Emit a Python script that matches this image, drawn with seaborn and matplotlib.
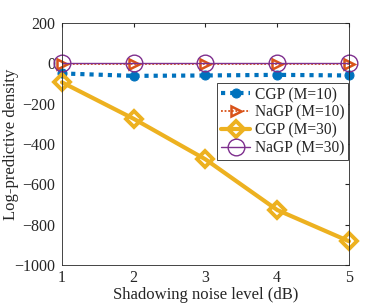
import matplotlib
matplotlib.use("Agg")
import matplotlib.pyplot as plt
import seaborn as sns
import pandas as pd

noise_db = [1, 2, 3, 4, 5]
cgp_m10 = [-50, -62, -60, -57, -60]
nagp_m10 = [-1, -1, -1, -1, -1]
cgp_m30 = [-94, -275, -476, -727, -882]
nagp_m30 = [0, 0, 0, 0, 0]

series = [
    ("CGP (M=10)", cgp_m10, dict(color="#0072BD", ls=(0, (1, 1.2)), lw=3, marker="o", ms=6.5,
                                 mfc="#0072BD", mec="#0072BD")),
    ("NaGP (M=10)", nagp_m10, dict(color="#D95319", ls=(0, (1, 1)), lw=1.3, marker=">", ms=7.5,
                                   mfc="none", mec="#D95319", mew=1.8)),
    ("CGP (M=30)", cgp_m30, dict(color="#EDB120", ls="-", lw=3, marker="D", ms=8,
                                 mfc="none", mec="#EDB120", mew=2.8)),
    ("NaGP (M=30)", nagp_m30, dict(color="#7E2F8E", ls="-", lw=1.0, marker="o", ms=12,
                                   mfc="none", mec="#7E2F8E", mew=1.0)),
]

sns.set_style("white")
plt.rcParams["font.family"] = ["Liberation Serif", "DejaVu Serif"]

fig = plt.figure(figsize=(3.86, 3.05), dpi=100)
ax = fig.add_axes([0.1606, 0.131, 0.7435, 0.7935])

for name, vals, st in series:
    df = pd.DataFrame({"x": noise_db, "y": vals})
    sns.lineplot(data=df, x="x", y="y", ax=ax, label=name, clip_on=False, **st)

ax.set_xlim(1, 5)
ax.set_ylim(-1000, 200)
ax.set_xticks([1, 2, 3, 4, 5])
ax.set_yticks([-1000, -800, -600, -400, -200, 0, 200])
ax.tick_params(direction="in", length=3, top=True, right=True, labelsize=11.5,
               color="#262626", labelcolor="#262626", pad=5)
ax.tick_params(axis="x", pad=3.5)
for s in ax.spines.values():
    s.set_color("#262626")
    s.set_linewidth(0.6)
ax.set_xlabel("Shadowing noise level (dB)", fontsize=12, color="#262626", va="center")
ax.set_ylabel("Log-predictive density", fontsize=12, color="#262626", va="center")
ax.xaxis.set_label_coords(0.5, -0.122)
ax.yaxis.set_label_coords(-0.178, 0.5)

leg = ax.legend(loc="upper right", bbox_to_anchor=(0.998, 0.752), fontsize=11.2,
                frameon=True, fancybox=False, edgecolor="#262626", framealpha=1,
                borderpad=0.25, labelspacing=0.12, handlelength=1.9, handletextpad=0.3,
                borderaxespad=0)
leg.get_frame().set_linewidth(0.6)

fig.savefig("out.png", dpi=100)
